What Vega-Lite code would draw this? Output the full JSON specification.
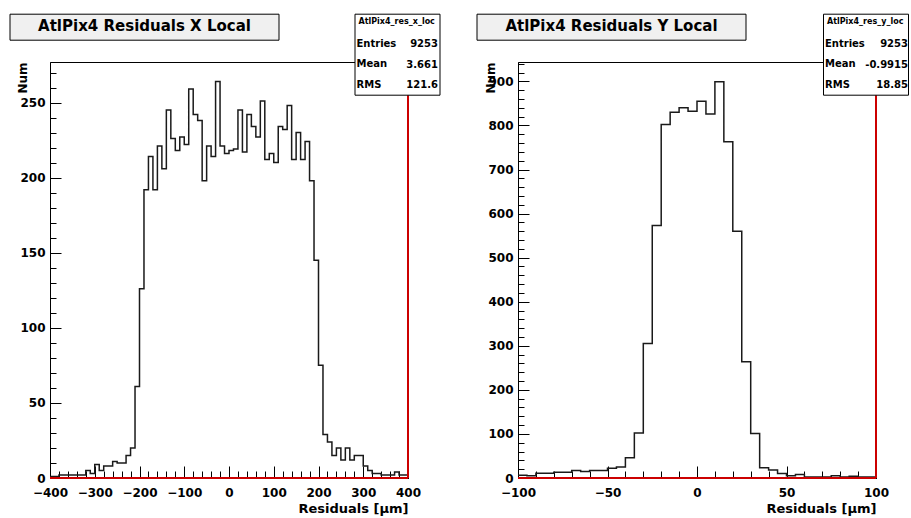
{
  "$schema": "https://vega.github.io/schema/vega-lite/v6.json",
  "background": "white",
  "padding": {"left": 8, "top": 12, "right": 0, "bottom": 0},
  "autosize": {"type": "pad"},
  "bounds": "flush",
  "spacing": 110,
  "config": {
    "font": "DejaVu Sans",
    "view": {"stroke": "black", "strokeWidth": 1},
    "axis": {"grid": false, "labelFont": "DejaVu Sans", "labelFontWeight": "bold", "labelFontSize": 12, "labelColor": "black", "tickColor": "black", "tickWidth": 1, "domainColor": "black", "titleFont": "DejaVu Sans", "titleFontWeight": "bold", "titleColor": "black", "labelFlush": false, "labelOverlap": false},
    "legend": {"labelFont": "DejaVu Sans", "titleFont": "DejaVu Sans", "titleLimit": 500, "labelLimit": 500}
  },
  "datasets": {
    "hx": [
      {"x": -400, "n": 1}, {"x": -390, "n": 1}, {"x": -380, "n": 2}, {"x": -370, "n": 2}, {"x": -360, "n": 2},
      {"x": -350, "n": 2}, {"x": -340, "n": 2}, {"x": -330, "n": 2}, {"x": -320, "n": 5}, {"x": -310, "n": 3},
      {"x": -300, "n": 9}, {"x": -290, "n": 5}, {"x": -280, "n": 8}, {"x": -270, "n": 8}, {"x": -260, "n": 11},
      {"x": -250, "n": 10}, {"x": -240, "n": 10}, {"x": -230, "n": 15}, {"x": -220, "n": 20}, {"x": -210, "n": 61},
      {"x": -200, "n": 126}, {"x": -190, "n": 192}, {"x": -180, "n": 214}, {"x": -170, "n": 192}, {"x": -160, "n": 221},
      {"x": -150, "n": 206}, {"x": -140, "n": 245}, {"x": -130, "n": 226}, {"x": -120, "n": 218}, {"x": -110, "n": 227},
      {"x": -100, "n": 222}, {"x": -90, "n": 259}, {"x": -80, "n": 242}, {"x": -70, "n": 238}, {"x": -60, "n": 198},
      {"x": -50, "n": 221}, {"x": -40, "n": 214}, {"x": -30, "n": 264}, {"x": -20, "n": 221}, {"x": -10, "n": 216},
      {"x": 0, "n": 218}, {"x": 10, "n": 219}, {"x": 20, "n": 245}, {"x": 30, "n": 217}, {"x": 40, "n": 242},
      {"x": 50, "n": 234}, {"x": 60, "n": 227}, {"x": 70, "n": 251}, {"x": 80, "n": 212}, {"x": 90, "n": 216},
      {"x": 100, "n": 210}, {"x": 110, "n": 234}, {"x": 120, "n": 232}, {"x": 130, "n": 248}, {"x": 140, "n": 212},
      {"x": 150, "n": 230}, {"x": 160, "n": 212}, {"x": 170, "n": 224}, {"x": 180, "n": 198}, {"x": 190, "n": 145},
      {"x": 200, "n": 75}, {"x": 210, "n": 29}, {"x": 220, "n": 24}, {"x": 230, "n": 15}, {"x": 240, "n": 20},
      {"x": 250, "n": 12}, {"x": 260, "n": 20}, {"x": 270, "n": 12}, {"x": 280, "n": 15}, {"x": 290, "n": 15},
      {"x": 300, "n": 8}, {"x": 310, "n": 5}, {"x": 320, "n": 3}, {"x": 330, "n": 3}, {"x": 340, "n": 2},
      {"x": 350, "n": 2}, {"x": 360, "n": 2}, {"x": 370, "n": 4}, {"x": 380, "n": 2}, {"x": 390, "n": 2},
      {"x": 400, "n": 2}
    ],
    "hy": [
      {"x": -100, "n": 6}, {"x": -95, "n": 5}, {"x": -90, "n": 11}, {"x": -85, "n": 11}, {"x": -80, "n": 13},
      {"x": -75, "n": 13}, {"x": -70, "n": 17}, {"x": -65, "n": 15}, {"x": -60, "n": 17}, {"x": -55, "n": 17},
      {"x": -50, "n": 22}, {"x": -45, "n": 25}, {"x": -40, "n": 46}, {"x": -35, "n": 102}, {"x": -30, "n": 305},
      {"x": -25, "n": 573}, {"x": -20, "n": 802}, {"x": -15, "n": 830}, {"x": -10, "n": 840}, {"x": -5, "n": 832},
      {"x": 0, "n": 855}, {"x": 5, "n": 826}, {"x": 10, "n": 899}, {"x": 15, "n": 763}, {"x": 20, "n": 560},
      {"x": 25, "n": 264}, {"x": 30, "n": 101}, {"x": 35, "n": 23}, {"x": 40, "n": 18}, {"x": 45, "n": 10},
      {"x": 50, "n": 5}, {"x": 55, "n": 8}, {"x": 60, "n": 2}, {"x": 65, "n": 2}, {"x": 70, "n": 2},
      {"x": 75, "n": 5}, {"x": 80, "n": 2}, {"x": 85, "n": 4}, {"x": 90, "n": 2}, {"x": 95, "n": 2},
      {"x": 100, "n": 2}
    ],
    "sx": [
      {"k": "Entries", "v": "9253"},
      {"k": "Mean", "v": "3.661"},
      {"k": "RMS", "v": "121.6"}
    ],
    "sy": [
      {"k": "Entries", "v": "9253"},
      {"k": "Mean", "v": "-0.9915"},
      {"k": "RMS", "v": "18.85"}
    ],
    "tx": [{"t": "AtlPix4 Residuals X Local"}],
    "ty": [{"t": "AtlPix4 Residuals Y Local"}]
  },
  "resolve": {
    "scale": {"fill": "independent", "stroke": "independent", "shape": "independent"},
    "legend": {"fill": "independent", "stroke": "independent", "shape": "independent"}
  },
  "hconcat": [
    {
      "width": 358,
      "height": 416,
      "resolve": {"axis": {"x": "independent", "y": "independent"}},
      "layer": [
        {
          "data": {"name": "hx"},
          "mark": {"type": "line", "interpolate": "step-after", "color": "#1a1a1a", "strokeWidth": 1.5},
          "encoding": {
            "x": {"field": "x", "type": "quantitative", "scale": {"domain": [-400, 400], "nice": false, "zero": false},
              "axis": {"orient": "bottom", "values": [-400, -300, -200, -100, 0, 100, 200, 300, 400], "tickSize": -12, "labelPadding": 21,
                "title": "Residuals [μm]", "titleFontSize": 13, "titleAnchor": "end", "titleAlign": "right", "titleX": 358, "titleY": 34, "titleBaseline": "alphabetic"}},
            "y": {"field": "n", "type": "quantitative", "scale": {"domain": [0, 277], "nice": false},
              "axis": {"orient": "left", "values": [0, 50, 100, 150, 200, 250], "tickSize": -11, "labelPadding": 16,
                "title": "Num", "titleFontSize": 12, "titleAngle": 270, "titleAlign": "right", "titleBaseline": "alphabetic", "titleX": -24, "titleY": 0}}
          }
        },
        {
          "data": {"values": [{}]},
          "mark": {"type": "rule", "color": "#cc0000", "strokeWidth": 2},
          "encoding": {
            "y": {"datum": 0, "type": "quantitative",
              "axis": {"orient": "left", "values": [0, 10, 20, 30, 40, 50, 60, 70, 80, 90, 100, 110, 120, 130, 140, 150, 160, 170, 180, 190, 200, 210, 220, 230, 240, 250, 260, 270],
                "tickSize": -6, "labels": false, "domain": false, "title": null}}
          }
        },
        {
          "data": {"values": [{}]},
          "mark": {"type": "rule", "color": "#cc0000", "strokeWidth": 2},
          "encoding": {
            "x": {"datum": 400, "type": "quantitative",
              "axis": {"orient": "bottom", "values": [-400, -380, -360, -340, -320, -300, -280, -260, -240, -220, -200, -180, -160, -140, -120, -100, -80, -60, -40, -20, 0, 20, 40, 60, 80, 100, 120, 140, 160, 180, 200, 220, 240, 260, 280, 300, 320, 340, 360, 380, 400],
                "tickSize": -7, "labels": false, "domain": false, "title": null}}
          }
        },
        {
          "data": {"name": "sx"},
          "mark": {"type": "point", "opacity": 0},
          "encoding": {
            "fill": {"field": "k", "type": "nominal", "sort": null,
              "legend": {"orient": "none", "legendX": 304.5, "legendY": -48.3, "title": "AtlPix4_res_x_loc", "titleFontSize": 8, "titleFontWeight": "bold", "titleColor": "black", "titlePadding": 13, "titleAnchor": "start",
                "labelFontSize": 10, "labelFontWeight": "bold", "labelColor": "black", "labelOffset": -12, "symbolSize": 0, "symbolOpacity": 0, "symbolStrokeWidth": 0,
                "rowPadding": 10.7, "padding": 4, "strokeColor": "black", "fillColor": "white", "zindex": 1}}
          }
        },
        {
          "data": {"name": "sx"},
          "mark": {"type": "point", "opacity": 0},
          "encoding": {
            "stroke": {"field": "v", "type": "nominal", "sort": null,
              "legend": {"orient": "none", "legendX": 378, "legendY": -23, "title": null, "labelAlign": "right",
                "labelFontSize": 10, "labelFontWeight": "bold", "labelColor": "black", "labelOffset": 0, "symbolSize": 0, "symbolOpacity": 0, "symbolStrokeWidth": 0,
                "rowPadding": 10.7, "padding": 0, "zindex": 2}}
          }
        },
        {
          "data": {"name": "tx"},
          "mark": {"type": "point", "opacity": 0},
          "encoding": {
            "shape": {"field": "t", "type": "nominal",
              "legend": {"orient": "none", "legendX": -40.5, "legendY": -48.3, "title": "AtlPix4 Residuals X Local", "titleFontSize": 15, "titleFontWeight": "bold", "titleColor": "black", "titleAnchor": "middle", "titlePadding": 0,
                "labelExpr": "'\u00a0'", "labelFontSize": 1, "labelOffset": 258, "symbolSize": 1, "symbolOpacity": 0, "symbolStrokeWidth": 0,
                "padding": 5, "strokeColor": "black", "fillColor": "#f0f0f0", "zindex": 1}}
          }
        }
      ]
    },
    {
      "width": 358,
      "height": 416,
      "resolve": {"axis": {"x": "independent", "y": "independent"}},
      "layer": [
        {
          "data": {"name": "hy"},
          "mark": {"type": "line", "interpolate": "step-after", "color": "#1a1a1a", "strokeWidth": 1.5},
          "encoding": {
            "x": {"field": "x", "type": "quantitative", "scale": {"domain": [-100, 100], "nice": false, "zero": false},
              "axis": {"orient": "bottom", "values": [-100, -50, 0, 50, 100], "tickSize": -12, "labelPadding": 21,
                "title": "Residuals [μm]", "titleFontSize": 13, "titleAnchor": "end", "titleAlign": "right", "titleX": 358, "titleY": 34, "titleBaseline": "alphabetic"}},
            "y": {"field": "n", "type": "quantitative", "scale": {"domain": [0, 944], "nice": false},
              "axis": {"orient": "left", "values": [0, 100, 200, 300, 400, 500, 600, 700, 800, 900], "tickSize": -11, "labelPadding": 16,
                "title": "Num", "titleFontSize": 12, "titleAngle": 270, "titleAlign": "right", "titleBaseline": "alphabetic", "titleX": -24, "titleY": 0}}
          }
        },
        {
          "data": {"values": [{}]},
          "mark": {"type": "rule", "color": "#cc0000", "strokeWidth": 2},
          "encoding": {
            "y": {"datum": 0, "type": "quantitative",
              "axis": {"orient": "left", "values": [0, 20, 40, 60, 80, 100, 120, 140, 160, 180, 200, 220, 240, 260, 280, 300, 320, 340, 360, 380, 400, 420, 440, 460, 480, 500, 520, 540, 560, 580, 600, 620, 640, 660, 680, 700, 720, 740, 760, 780, 800, 820, 840, 860, 880, 900, 920, 940],
                "tickSize": -6, "labels": false, "domain": false, "title": null}}
          }
        },
        {
          "data": {"values": [{}]},
          "mark": {"type": "rule", "color": "#cc0000", "strokeWidth": 2},
          "encoding": {
            "x": {"datum": 100, "type": "quantitative",
              "axis": {"orient": "bottom", "values": [-100, -90, -80, -70, -60, -50, -40, -30, -20, -10, 0, 10, 20, 30, 40, 50, 60, 70, 80, 90, 100],
                "tickSize": -7, "labels": false, "domain": false, "title": null}}
          }
        },
        {
          "data": {"name": "sy"},
          "mark": {"type": "point", "opacity": 0},
          "encoding": {
            "fill": {"field": "k", "type": "nominal", "sort": null,
              "legend": {"orient": "none", "legendX": 305, "legendY": -48.3, "title": "AtlPix4_res_y_loc", "titleFontSize": 8, "titleFontWeight": "bold", "titleColor": "black", "titlePadding": 13, "titleAnchor": "start",
                "labelFontSize": 10, "labelFontWeight": "bold", "labelColor": "black", "labelOffset": -12, "symbolSize": 0, "symbolOpacity": 0, "symbolStrokeWidth": 0,
                "rowPadding": 10.7, "padding": 4, "strokeColor": "black", "fillColor": "white", "zindex": 1}}
          }
        },
        {
          "data": {"name": "sy"},
          "mark": {"type": "point", "opacity": 0},
          "encoding": {
            "stroke": {"field": "v", "type": "nominal", "sort": null,
              "legend": {"orient": "none", "legendX": 380, "legendY": -23, "title": null, "labelAlign": "right",
                "labelFontSize": 10, "labelFontWeight": "bold", "labelColor": "black", "labelOffset": 0, "symbolSize": 0, "symbolOpacity": 0, "symbolStrokeWidth": 0,
                "rowPadding": 10.7, "padding": 0, "zindex": 2}}
          }
        },
        {
          "data": {"name": "ty"},
          "mark": {"type": "point", "opacity": 0},
          "encoding": {
            "shape": {"field": "t", "type": "nominal",
              "legend": {"orient": "none", "legendX": -41.5, "legendY": -48.3, "title": "AtlPix4 Residuals Y Local", "titleFontSize": 15, "titleFontWeight": "bold", "titleColor": "black", "titleAnchor": "middle", "titlePadding": 0,
                "labelExpr": "'\u00a0'", "labelFontSize": 1, "labelOffset": 258, "symbolSize": 1, "symbolOpacity": 0, "symbolStrokeWidth": 0,
                "padding": 5, "strokeColor": "black", "fillColor": "#f0f0f0", "zindex": 1}}
          }
        }
      ]
    }
  ]
}
